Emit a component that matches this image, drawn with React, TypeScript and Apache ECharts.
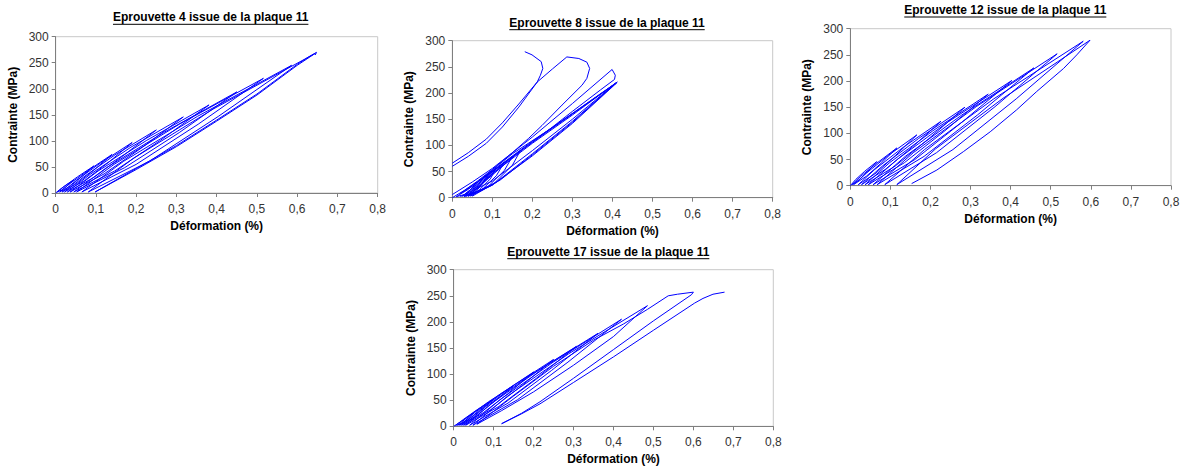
import React, { useEffect, useRef } from 'react';
import * as echarts from 'echarts';

// ---- Data (strain %, stress MPa) ----
const titles = [
  'Eprouvette 4 issue de la plaque 11',
  'Eprouvette 8 issue de la plaque 11',
  'Eprouvette 12 issue de la plaque 11',
  'Eprouvette 17 issue de la plaque 11',
];
const xAxisName = 'Déformation (%)';
const yAxisName = 'Contrainte (MPa)';

const spec4Cycles: number[][] = [
  [0, 0], [0.009, 6], [0.025, 15], [0.045, 25], [0.03, 15], [0.016, 6], [0.004, 2],
  [0.022, 13], [0.054, 31], [0.095, 52], [0.064, 31], [0.036, 13], [0.01, 2],
  [0.036, 18.5], [0.082, 44], [0.14, 74], [0.095, 44], [0.053, 18.5], [0.016, 2],
  [0.051, 24], [0.112, 58], [0.19, 97], [0.13, 58], [0.072, 24], [0.022, 2],
  [0.068, 30], [0.147, 73], [0.25, 121], [0.17, 73], [0.095, 30], [0.029, 2],
  [0.087, 36.5], [0.187, 88], [0.317, 146], [0.216, 88], [0.12, 36.5], [0.036, 2],
  [0.105, 42], [0.226, 101], [0.381, 169], [0.26, 101], [0.146, 42], [0.045, 2],
  [0.126, 48.5], [0.268, 116], [0.45, 194], [0.307, 116], [0.171, 48.5], [0.052, 2],
  [0.145, 55], [0.307, 132], [0.516, 220], [0.354, 132], [0.2, 55], [0.065, 2],
  [0.169, 61], [0.352, 147], [0.586, 245], [0.404, 147], [0.233, 61], [0.081, 2],
  [0.194, 67], [0.391, 161], [0.645, 268], [0.6, 245], [0.5, 188], [0.4, 138], [0.3, 89], [0.2, 45], [0.098, 2],
  [0.2, 47], [0.3, 91], [0.4, 140], [0.5, 190], [0.6, 247], [0.63, 262], [0.648, 270], [0.645, 265],
];

const spec8Band: number[][] = [
  [0, 0], [0.03, 14], [0.06, 30], [0.05, 18], [0.03, 6], [0.01, 2],
  [0.04, 16], [0.09, 46], [0.075, 28], [0.05, 10], [0.025, 3],
  [0.05, 18], [0.11, 57], [0.095, 36], [0.065, 13], [0.03, 3],
  [0.06, 22], [0.13, 68], [0.11, 42], [0.075, 16], [0.035, 3],
  [0.07, 26], [0.15, 79], [0.13, 52], [0.09, 22], [0.04, 3],
  [0.08, 30], [0.17, 90], [0.15, 62], [0.1, 24], [0.045, 3],
  [0.1, 46], [0.2, 104], [0.3, 158], [0.41, 220], [0.3, 144], [0.2, 82], [0.12, 34], [0.05, 3],
  [0.1, 50], [0.2, 106], [0.3, 160], [0.412, 221], [0.3, 146], [0.2, 84], [0.11, 30], [0.04, 3],
  [0.08, 40], [0.2, 108], [0.3, 161], [0.41, 219], [0.3, 142], [0.2, 80], [0.1, 24], [0.03, 2],
  [0.06, 28], [0.15, 84], [0.25, 134], [0.35, 188], [0.41, 220], [0.3, 150], [0.2, 90], [0.1, 32], [0.02, 2],
];
const spec8Loop245: number[][] = [
  [0, 6], [0.05, 30], [0.1, 56], [0.2, 116], [0.3, 180], [0.399, 245], [0.407, 234], [0.405, 226],
  [0.37, 206], [0.3, 165], [0.25, 135], [0.2, 106], [0.15, 78], [0.1, 50], [0.05, 22], [0.02, 8],
];
const spec8Loop268: number[][] = [
  [0, 66], [0.04, 86], [0.085, 112], [0.125, 143], [0.166, 179], [0.212, 221], [0.25, 246], [0.286, 269],
  [0.316, 266], [0.336, 259], [0.343, 247], [0.336, 228], [0.324, 215], [0.274, 177], [0.224, 138],
  [0.19, 113], [0.15, 86], [0.1, 54], [0.05, 24], [0.02, 8],
];
const spec8LeftLoop: number[][] = [
  [0.181, 279], [0.199, 273], [0.222, 260], [0.226, 247], [0.22, 234], [0.212, 221],
  [0.166, 173], [0.125, 135], [0.085, 104], [0.04, 79], [0, 60],
];

const spec12Cycles: number[][] = [
  [0, 0], [0.013, 11.5], [0.036, 27.6], [0.066, 46], [0.044, 27.6], [0.023, 11.5], [0.004, 2],
  [0.026, 18], [0.066, 43], [0.116, 72], [0.077, 43], [0.04, 18], [0.008, 2],
  [0.04, 24], [0.095, 58], [0.166, 97], [0.113, 58], [0.064, 24], [0.02, 2],
  [0.061, 31], [0.133, 74], [0.226, 123], [0.155, 74], [0.087, 31], [0.028, 2],
  [0.08, 37.5], [0.17, 90], [0.286, 150], [0.196, 90], [0.112, 37.5], [0.037, 2],
  [0.098, 44], [0.206, 105], [0.344, 175], [0.236, 105], [0.135, 44], [0.045, 2],
  [0.117, 50], [0.242, 121], [0.403, 201], [0.278, 121], [0.161, 50], [0.057, 2],
  [0.137, 56], [0.278, 135], [0.458, 225], [0.317, 135], [0.184, 56], [0.067, 2],
  [0.157, 63], [0.314, 151], [0.516, 252], [0.361, 151], [0.215, 63], [0.086, 2],
  [0.185, 69], [0.358, 166], [0.581, 276], [0.414, 166], [0.256, 69], [0.116, 2],
  [0.212, 70], [0.381, 167], [0.598, 278], [0.565, 250], [0.532, 224], [0.465, 180],
  [0.415, 145], [0.349, 103], [0.282, 65], [0.216, 30], [0.153, 4],
];

const spec17Cycles: number[][] = [
  [0, 0], [0.02, 10], [0.05, 26], [0.035, 14], [0.02, 5], [0.005, 2],
  [0.024, 13], [0.057, 31], [0.1, 52], [0.068, 31], [0.037, 13], [0.01, 2],
  [0.038, 19.5], [0.087, 47], [0.15, 78], [0.101, 47], [0.056, 19.5], [0.015, 2],
  [0.052, 26], [0.117, 62], [0.2, 104], [0.135, 62], [0.074, 26], [0.02, 2],
  [0.066, 32], [0.147, 77], [0.25, 128], [0.169, 77], [0.093, 32], [0.025, 2],
  [0.081, 38], [0.18, 92], [0.307, 153], [0.207, 92], [0.113, 38], [0.03, 2],
  [0.096, 44.5], [0.212, 107], [0.361, 178], [0.245, 107], [0.136, 44.5], [0.04, 2],
  [0.116, 51], [0.249, 123], [0.42, 205], [0.286, 123], [0.16, 51], [0.048, 2],
  [0.135, 58], [0.288, 139], [0.485, 231], [0.4, 172], [0.3, 117], [0.2, 66], [0.12, 30], [0.058, 4],
  [0.15, 58], [0.25, 115], [0.35, 165], [0.425, 196], [0.485, 224], [0.537, 250], [0.56, 253], [0.6, 257], [0.595, 252],
  [0.5, 202], [0.4, 147], [0.3, 92], [0.216, 47], [0.17, 25], [0.12, 5],
];
const spec17Final: number[][] = [
  [0.12, 5], [0.17, 24], [0.216, 43], [0.3, 84], [0.4, 133], [0.5, 184], [0.603, 236],
  [0.624, 245], [0.649, 253], [0.678, 257],
];

const seriesPerChart: number[][][][] = [
  [spec4Cycles],
  [spec8Band, spec8Loop245, spec8Loop268, spec8LeftLoop],
  [spec12Cycles],
  [spec17Cycles, spec17Final],
];

// ---- Layout ----
const FONT = '"Liberation Sans", Arial, sans-serif';
const grids = [
  { left: 55.7, top: 36.7, width: 322, height: 156.3 },
  { left: 452.3, top: 40.7, width: 320.4, height: 157 },
  { left: 850.3, top: 28.7, width: 320.7, height: 157 },
  { left: 453.7, top: 269.7, width: 319.6, height: 156.6 },
];
const titlePos = [
  [210.7, 17.3],
  [607, 22.7],
  [1005.3, 10],
  [608.3, 251.7],
];

export default function App() {
  const ref = useRef<HTMLDivElement>(null);
  useEffect(() => {
    document.body.style.margin = '0';
    if (!ref.current) return;
    const chart = echarts.init(ref.current, null, { renderer: 'svg' });

    const titleFont = `bold 12px ${FONT}`;
    const ctx = document.createElement('canvas').getContext('2d');
    const graphics: any[] = [];
    titles.forEach((t, i) => {
      const [cx, cy] = titlePos[i];
      let w = 195;
      if (ctx) {
        ctx.font = titleFont;
        w = ctx.measureText(t).width;
      }
      graphics.push({
        type: 'text',
        x: cx,
        y: cy,
        style: { text: t, font: titleFont, fill: '#000', align: 'center', verticalAlign: 'middle' },
      });
      graphics.push({
        type: 'line',
        shape: { x1: cx - w / 2, y1: cy + 7, x2: cx + w / 2, y2: cy + 7 },
        style: { stroke: '#000', lineWidth: 1 },
      });
    });

    const axisColor = '#7f7f7f';
    const xAxes = grids.map((_, i) => ({
      gridIndex: i,
      type: 'value',
      min: 0,
      max: 0.8,
      interval: 0.1,
      name: xAxisName,
      nameLocation: 'middle',
      nameGap: 27,
      nameTextStyle: { fontWeight: 'bold', fontSize: 12, color: '#000', fontFamily: FONT },
      axisLine: { show: true, lineStyle: { color: axisColor, width: 1 } },
      axisTick: { show: true, length: 4, lineStyle: { color: axisColor } },
      axisLabel: {
        fontSize: 12,
        color: '#333',
        margin: 10,
        fontFamily: FONT,
        formatter: (v: number) => (Math.abs(v) < 1e-9 ? '0' : v.toFixed(1).replace('.', ',')),
      },
      splitLine: { show: false },
    }));
    const yAxes = grids.map((_, i) => ({
      gridIndex: i,
      type: 'value',
      min: 0,
      max: 300,
      interval: 50,
      name: yAxisName,
      nameLocation: 'middle',
      nameGap: 37,
      nameTextStyle: { fontWeight: 'bold', fontSize: 12, color: '#000', fontFamily: FONT },
      axisLine: { show: true, lineStyle: { color: axisColor, width: 1 } },
      axisTick: { show: true, length: 4, lineStyle: { color: axisColor } },
      axisLabel: { fontSize: 12, color: '#333', margin: 7, fontFamily: FONT },
      splitLine: { show: false },
    }));

    const series: any[] = [];
    seriesPerChart.forEach((list, i) => {
      list.forEach((data) => {
        series.push({
          type: 'line',
          xAxisIndex: i,
          yAxisIndex: i,
          data,
          showSymbol: false,
          symbol: 'none',
          lineStyle: { color: '#0000ff', width: 1 },
          itemStyle: { color: '#0000ff' },
        });
      });
    });

    chart.setOption({
      animation: false,
      backgroundColor: '#ffffff',
      textStyle: { fontFamily: FONT },
      grid: grids.map((g) => ({ ...g, show: true, borderColor: '#c8c8c8', borderWidth: 1, backgroundColor: 'transparent' })),
      xAxis: xAxes,
      yAxis: yAxes,
      series,
      graphic: graphics,
    });
    return () => chart.dispose();
  }, []);
  return <div ref={ref} style={{ width: 1186, height: 470, background: '#fff' }} />;
}
